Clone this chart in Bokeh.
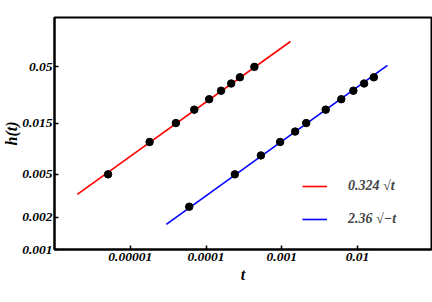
from bokeh.plotting import figure
from bokeh.models import Range1d, FixedTicker, Legend, LegendItem, Title
from bokeh.embed import file_html
from bokeh.resources import INLINE

# data
t_red = [5.1e-6, 1.8e-5, 4.0e-5, 7.0e-5, 1.1e-4, 1.58e-4, 2.15e-4, 2.8e-4, 4.35e-4]
h_red = [0.005, 0.01, 0.015, 0.02, 0.025, 0.03, 0.035, 0.04, 0.05]
t_blue = [6.0e-5, 2.4e-4, 5.3e-4, 9.5e-4, 1.5e-3, 2.1e-3, 3.8e-3, 6.1e-3, 8.8e-3, 0.0122, 0.0164]
h_blue = [0.0025, 0.005, 0.0075, 0.01, 0.0125, 0.015, 0.02, 0.025, 0.03, 0.035, 0.04]
fit_red_t = [2.0e-6, 1.3e-3]
fit_red_h = [0.00325, 0.0861]
fit_blue_t = [2.99e-5, 0.0248]
fit_blue_h = [0.00171, 0.0517]
x_ticks = [1e-5, 1e-4, 1e-3, 1e-2]
x_tick_labels = ["0.00001", "0.0001", "0.001", "0.01"]
y_ticks = [0.001, 0.002, 0.005, 0.015, 0.05]
y_tick_labels = ["0.001", "0.002", "0.005", "0.015", "0.05"]
legend_labels = ["0.324 \u221at", "2.36 \u221a\u2212t"]
x_title = "t"
y_title = "h(t)"

FONT = "Liberation Serif"

p = figure(width=432, height=302, x_axis_type="log", y_axis_type="log",
           x_range=Range1d(1e-6, 10 ** -1.024), y_range=Range1d(0.001, 0.1439),
           output_backend="svg", toolbar_location=None,
           min_border_left=54, min_border_right=1, min_border_top=17, min_border_bottom=53)
p.grid.visible = False
p.outline_line_color = "black"
p.outline_line_width = 2
p.background_fill_color = "white"

r1 = p.line(fit_red_t, fit_red_h, line_color="#ff0000", line_width=1.6)
r2 = p.line(fit_blue_t, fit_blue_h, line_color="#0000ff", line_width=1.6)
p.scatter(t_red, h_red, size=7.5, color="black")
p.scatter(t_blue, h_blue, size=7.5, color="black")

p.xaxis.ticker = FixedTicker(ticks=x_ticks, minor_ticks=[])
p.xaxis.major_label_overrides = {v: s for v, s in zip(x_ticks, x_tick_labels)}
p.yaxis.ticker = FixedTicker(ticks=y_ticks, minor_ticks=[])
p.yaxis.major_label_overrides = {v: s for v, s in zip(y_ticks, y_tick_labels)}

for ax in (p.xaxis, p.yaxis):
    ax.axis_line_width = 2
    ax.axis_line_color = "black"
    ax.major_tick_in = 4
    ax.major_tick_out = 0
    ax.major_tick_line_width = 1.5
    ax.minor_tick_in = 0
    ax.minor_tick_out = 0
    ax.major_label_text_font = FONT
    ax.major_label_text_font_style = "bold italic"
    ax.major_label_text_font_size = "13.5px"
    ax.major_label_text_color = "black"
    ax.axis_label_text_font = FONT
    ax.axis_label_text_font_style = "bold italic"
    ax.axis_label_text_font_size = "16px"
    ax.axis_label_text_color = "black"

p.xaxis.axis_label = x_title
p.xaxis.major_label_standoff = 3
p.xaxis.axis_label_standoff = 2
p.yaxis.major_label_standoff = 2

p.add_layout(Title(text=y_title, align="center", standoff=0, offset=0,
                   text_font=FONT, text_font_style="bold italic",
                   text_font_size="16px", text_color="black"), "left")

legend = Legend(items=[LegendItem(label=legend_labels[0], renderers=[r1]),
                       LegendItem(label=legend_labels[1], renderers=[r2])],
                location=(248, 20), glyph_width=25, glyph_height=20, label_height=20,
                spacing=13, label_standoff=21, padding=0, margin=0,
                border_line_alpha=0, background_fill_alpha=0,
                label_text_font=FONT, label_text_font_style="bold italic",
                label_text_font_size="14px")
p.add_layout(legend)

open("out.html", "w").write(file_html(p, INLINE))
